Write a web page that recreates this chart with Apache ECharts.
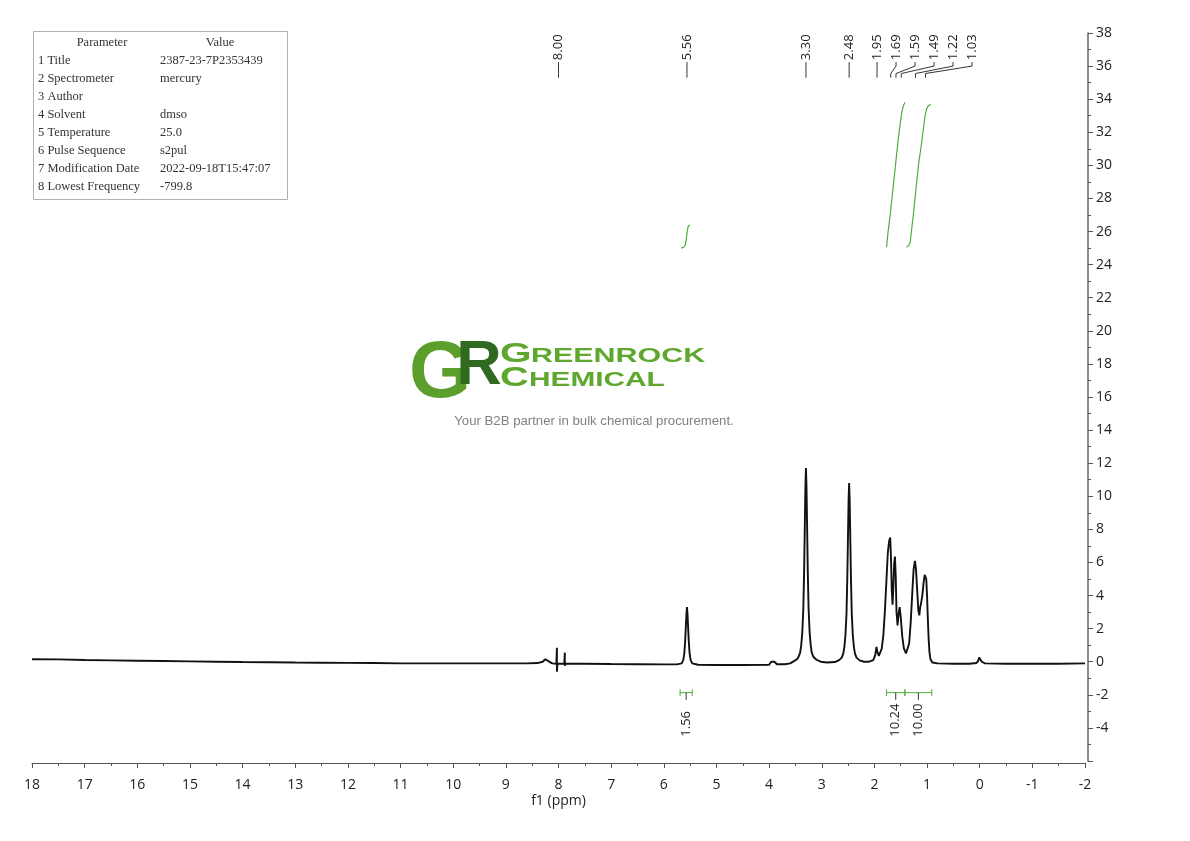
<!DOCTYPE html>
<html><head><meta charset="utf-8">
<script src="https://cdn.jsdelivr.net/npm/echarts@6/dist/echarts.min.js"></script>
<style>html,body{margin:0;padding:0;background:#fff}#c{width:1190px;height:841px}</style>
</head><body><div id="c"></div>
<script>
// ---- data ----
const spectrum = [
[18.0,0.15],[17.5,0.14],[17.0,0.1],[16.5,0.08],[16.0,0.06],[15.5,0.04],[15.0,0.02],[14.5,0.0],[14.0,-0.02],[13.5,-0.03],[13.0,-0.05],[12.5,-0.06],[12.0,-0.07],[11.5,-0.08],[11.0,-0.1],[10.5,-0.1],[10.0,-0.1],[9.5,-0.1],[9.0,-0.1],[8.6,-0.1],[8.4,-0.08],[8.3,0.0],[8.25,0.15],[8.2,0.05],[8.12,-0.1],
[8.04,-0.12],[8.03,0.85],[8.03,-0.6],[8.02,-0.12],[7.89,-0.12],[7.88,0.55],[7.88,-0.25],[7.87,-0.12],
[7.5,-0.12],[7.0,-0.14],[6.5,-0.15],[6.0,-0.16],[5.75,-0.16],[5.66,-0.1],[5.63,0.1],[5.61,0.5],[5.595,1.2],[5.58,2.2],[5.57,2.9],[5.56,3.3],[5.55,2.9],[5.54,2.2],[5.525,1.2],[5.51,0.5],[5.49,0.1],[5.46,-0.1],[5.35,-0.18],
[5.0,-0.2],[4.5,-0.2],[4.0,-0.18],[3.96,0.0],[3.93,0.12],[3.9,0.0],[3.85,-0.15],[3.7,-0.15],[3.6,-0.1],[3.52,0.05],[3.47,0.15],
[3.44,0.3],[3.41,0.55],[3.39,1.0],[3.37,1.75],[3.35,3.2],[3.335,5.4],[3.32,8.6],[3.31,10.6],[3.30,11.7],[3.29,10.6],[3.28,8.6],[3.265,5.4],[3.25,3.2],[3.23,1.75],[3.21,1.0],[3.19,0.55],[3.16,0.3],[3.1,0.12],[3.02,0.0],[2.9,-0.05],[2.75,-0.02],[2.67,0.1],
[2.62,0.25],[2.59,0.5],[2.57,0.9],[2.55,1.6],[2.53,2.9],[2.515,5.0],[2.50,7.9],[2.49,9.8],[2.48,10.8],[2.47,9.8],[2.46,7.9],[2.445,5.0],[2.43,2.9],[2.41,1.6],[2.39,0.9],[2.37,0.5],[2.34,0.25],[2.28,0.08],[2.2,0.0],[2.1,0.0],
[2.02,0.1],[1.985,0.4],[1.96,0.9],[1.94,0.55],[1.915,0.35],[1.89,0.4],[1.86,0.8],[1.83,1.6],[1.80,3.1],[1.77,5.0],[1.745,6.6],[1.72,7.3],[1.70,7.5],[1.685,6.3],[1.67,4.3],[1.655,3.45],[1.64,4.5],[1.625,5.9],[1.61,6.36],[1.595,5.2],[1.58,3.0],[1.56,2.2],[1.54,2.9],[1.52,3.3],[1.50,2.7],[1.47,1.5],[1.44,0.8],[1.40,0.5],[1.37,0.55],[1.34,1.1],[1.31,2.4],[1.28,4.2],[1.255,5.6],[1.23,6.1],[1.21,5.6],[1.185,4.2],[1.165,3.1],[1.147,2.8],[1.13,3.3],[1.115,3.5],[1.09,4.0],[1.065,4.8],[1.045,5.25],[1.03,5.3],[1.015,5.0],[1.0,4.0],[0.985,2.6],[0.97,1.4],[0.955,0.6],[0.935,0.15],[0.9,-0.05],
[0.8,-0.1],[0.5,-0.12],[0.2,-0.12],[0.06,-0.08],[0.03,0.05],[0.01,0.25],[-0.01,0.2],[-0.04,0.0],[-0.1,-0.1],[-0.5,-0.12],[-1.0,-0.12],[-1.5,-0.12],[-2.0,-0.1]
];
const integralCurveA = [[5.67,25.0],[5.62,25.05],[5.59,25.2],[5.575,25.5],[5.56,25.9],[5.545,26.2],[5.53,26.35],[5.50,26.4]];
const integralCurveB = [[1.77,25.05],[1.74,26.0],[1.70,27.0],[1.64,28.8],[1.59,30.3],[1.55,31.5],[1.515,32.4],[1.48,33.2],[1.45,33.6],[1.42,33.8]];
const integralCurveC = [[1.39,25.05],[1.35,25.15],[1.32,25.35],[1.29,26.2],[1.25,27.3],[1.20,28.9],[1.16,30.1],[1.11,31.2],[1.07,32.2],[1.04,32.95],[1.01,33.4],[0.975,33.6],[0.93,33.7]];
const peakPositions = [8.00, 5.56, 3.30, 2.48, 1.95, 1.69, 1.59, 1.49, 1.22, 1.03];
const peakLabels = ['8.00','5.56','3.30','2.48','1.95','1.69','1.59','1.49','1.22','1.03'];
const integralRanges = [[5.69,5.46],[1.77,1.42],[1.42,0.91]];
const integralValues = ['1.56','10.24','10.00'];
const paramNames = ['1 Title','2 Spectrometer','3 Author','4 Solvent','5 Temperature','6 Pulse Sequence','7 Modification Date','8 Lowest Frequency'];
const paramValues = ['2387-23-7P2353439','mercury','','dmso','25.0','s2pul','2022-09-18T15:47:07','-799.8'];
const tableHeader = ['Parameter','Value'];

// ---- chart ----
const chart = echarts.init(document.getElementById('c'), null, {renderer:'canvas'});
const AXIS_FONT = '"Open Sans", "DejaVu Sans", sans-serif';
const GREEN = '#4caf3c';

const LABEL_TEXT_BOTTOM = 36.3, LABEL_BEND1 = 36.0, LABEL_BEND2 = 35.55, LABEL_END = 35.3;
const BAR_Y = -1.87, CAP = 0.2, STEM_END = -2.3, INT_LABEL_BOTTOM = -4.53;

function peakLabelRender(params, api) {
  const i = params.dataIndex;
  const xs = peakPositions.map(p => api.coord([p, 0])[0]);
  const lx = [];
  for (let k = 0; k < xs.length; k++) lx[k] = k === 0 ? xs[k] : Math.max(xs[k], lx[k-1] + 19);
  const yB = api.coord([0, LABEL_TEXT_BOTTOM])[1];
  const y1 = api.coord([0, LABEL_BEND1])[1];
  const y2 = api.coord([0, LABEL_BEND2])[1];
  const yE = api.coord([0, LABEL_END])[1];
  return {
    type: 'group',
    children: [
      {type:'text', x: lx[i], y: yB - 1, rotation: Math.PI/2,
        style:{text: peakLabels[i], fill:'#222', font:'13px ' + AXIS_FONT, align:'left', verticalAlign:'middle'}},
      {type:'polyline', shape:{points:[[lx[i], yB+1],[lx[i], y1],[xs[i], y2],[xs[i], yE]]},
        style:{stroke:'#333', lineWidth:1, fill:null}}
    ]
  };
}

function integralRender(params, api) {
  const i = params.dataIndex;
  const r = integralRanges[i];
  const a = api.coord([r[0], BAR_Y]), b = api.coord([r[1], BAR_Y]);
  const capT = api.coord([0, BAR_Y + CAP])[1], capB = api.coord([0, BAR_Y - CAP])[1];
  const mid = (a[0] + b[0]) / 2;
  const stemEnd = api.coord([0, STEM_END])[1];
  const lb = api.coord([0, INT_LABEL_BOTTOM])[1];
  return {
    type:'group',
    children:[
      {type:'line', shape:{x1:a[0], y1:a[1], x2:b[0], y2:b[1]}, style:{stroke:GREEN, lineWidth:1}},
      {type:'line', shape:{x1:a[0], y1:capT, x2:a[0], y2:capB}, style:{stroke:GREEN, lineWidth:1}},
      {type:'line', shape:{x1:b[0], y1:capT, x2:b[0], y2:capB}, style:{stroke:GREEN, lineWidth:1}},
      {type:'line', shape:{x1:mid, y1:a[1], x2:mid, y2:stemEnd}, style:{stroke:'#333', lineWidth:1}},
      {type:'text', x: mid, y: lb, rotation: Math.PI/2,
        style:{text: integralValues[i], fill:'#222', font:'13px ' + AXIS_FONT, align:'left', verticalAlign:'middle'}}
    ]
  };
}

// parameter table graphics
const tableGraphics = [{type:'rect', left:33, top:31, shape:{width:254, height:168}, style:{fill:'#fff', stroke:'#b0b0b0', lineWidth:1}, z:10}];
const TABLE_FONT = '12.5px "Liberation Serif", "DejaVu Serif", serif';
tableGraphics.push({type:'text', x:102, y:43, style:{text:tableHeader[0], font:TABLE_FONT, fill:'#333', align:'center', verticalAlign:'middle'}, z:11});
tableGraphics.push({type:'text', x:220, y:43, style:{text:tableHeader[1], font:TABLE_FONT, fill:'#333', align:'center', verticalAlign:'middle'}, z:11});
paramNames.forEach((n, k) => {
  const y = 61 + k * 17.9;
  tableGraphics.push({type:'text', x:38, y:y, style:{text:n, font:TABLE_FONT, fill:'#333', verticalAlign:'middle'}, z:11});
  tableGraphics.push({type:'text', x:160, y:y, style:{text:paramValues[k], font:TABLE_FONT, fill:'#333', verticalAlign:'middle'}, z:11});
});

// watermark logo
const LOGO_GREEN = '#5fa82f';
const logoGraphics = [
  {type:'text', x:440, y:375, style:{text:'G', font:'bold 80px "Liberation Sans", Arial, sans-serif', fill:'#5c9e2c', align:'center', verticalAlign:'middle'}, z:1},
  {type:'text', x:479, y:367, style:{text:'R', font:'bold 63px "Liberation Sans", Arial, sans-serif', fill:'#2f6a20', align:'center', verticalAlign:'middle'}, z:2},
  {type:'text', x:500, y:368, scaleX:1.45, style:{text:'G', font:'bold 28px "Liberation Sans", Arial, sans-serif', fill:LOGO_GREEN, verticalAlign:'bottom'}, z:1},
  {type:'text', x:531, y:366.5, scaleX:1.45, style:{text:'REENROCK', font:'bold 21px "Liberation Sans", Arial, sans-serif', fill:LOGO_GREEN, verticalAlign:'bottom'}, z:1},
  {type:'text', x:500, y:392, scaleX:1.42, style:{text:'C', font:'bold 28px "Liberation Sans", Arial, sans-serif', fill:LOGO_GREEN, verticalAlign:'bottom'}, z:1},
  {type:'text', x:529, y:390.5, scaleX:1.42, style:{text:'HEMICAL', font:'bold 21px "Liberation Sans", Arial, sans-serif', fill:LOGO_GREEN, verticalAlign:'bottom'}, z:1},
  {type:'text', x:594, y:421, style:{text:'Your B2B partner in bulk chemical procurement.', font:'13.2px "Liberation Sans", Arial, sans-serif', fill:'#808080', align:'center', verticalAlign:'middle'}, z:1}
];

const option = {
  animation:false,
  backgroundColor:'#fff',
  grid:{left:32, right:105, top:33, bottom:80},
  xAxis:{
    type:'value', min:-2, max:18, interval:1, inverse:true, offset:2,
    name:'f1 (ppm)', nameLocation:'middle', nameGap:31, nameMoveOverlap:false,
    nameTextStyle:{fontSize:14, color:'#222', fontFamily:AXIS_FONT},
    axisLine:{onZero:false, lineStyle:{color:'#555', width:1}},
    axisTick:{show:true, length:5, lineStyle:{color:'#555'}},
    minorTick:{show:true, splitNumber:2, length:3, lineStyle:{color:'#555'}},
    axisLabel:{fontSize:14, color:'#222', margin:15, fontFamily:AXIS_FONT},
    splitLine:{show:false}
  },
  yAxis:{
    type:'value', position:'right', min:-6, max:38, interval:2, offset:3,
    axisLine:{show:true, onZero:false, lineStyle:{color:'#666', width:1.5}},
    axisTick:{show:true, length:5, lineStyle:{color:'#555'}},
    minorTick:{show:true, splitNumber:2, length:3, lineStyle:{color:'#555'}},
    axisLabel:{fontSize:14, color:'#222', margin:8, fontFamily:AXIS_FONT, formatter: v => v < -5 ? '' : String(v)},
    splitLine:{show:false}
  },
  graphic: tableGraphics.concat(logoGraphics),
  series:[
    {type:'line', data:spectrum, showSymbol:false, symbol:'none', lineStyle:{color:'#111', width:1.9}, z:5, silent:true},
    {type:'line', data:integralCurveA, showSymbol:false, symbol:'none', lineStyle:{color:GREEN, width:1.2}, z:4},
    {type:'line', data:integralCurveB, showSymbol:false, symbol:'none', lineStyle:{color:GREEN, width:1.2}, z:4},
    {type:'line', data:integralCurveC, showSymbol:false, symbol:'none', lineStyle:{color:GREEN, width:1.2}, z:4},
    {type:'custom', data:peakPositions.map((p,i)=>[p, i]), renderItem:peakLabelRender, z:6, silent:true},
    {type:'custom', data:integralRanges.map((r,i)=>[r[0], i]), renderItem:integralRender, z:6, silent:true}
  ]
};
chart.setOption(option);
</script>
</body></html>
